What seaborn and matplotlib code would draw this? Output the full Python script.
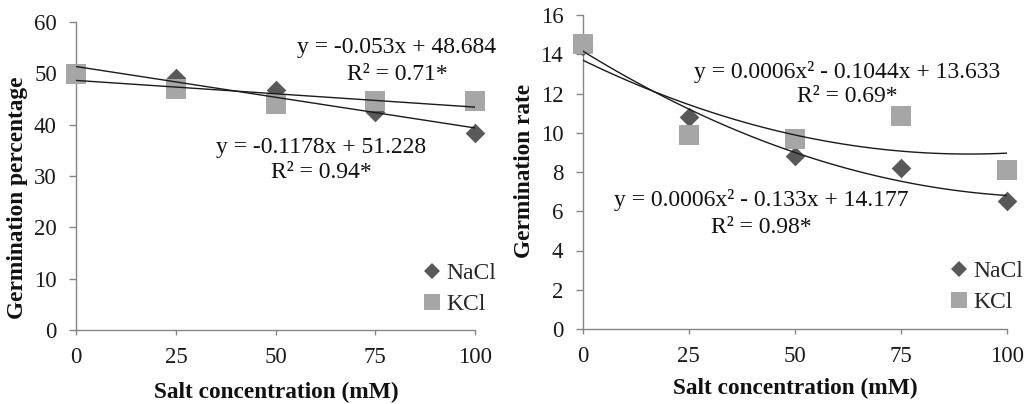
import matplotlib
matplotlib.use("Agg")
import matplotlib.pyplot as plt
from matplotlib.lines import Line2D
import seaborn as sns
import pandas as pd

# ---- data ----
salt_mM = [0, 25, 50, 75, 100]
pct_nacl = [50.1, 49.0, 46.7, 42.5, 38.4]
pct_kcl = [49.9, 47.0, 44.0, 44.6, 44.6]
rate_nacl = [14.4, 10.8, 8.8, 8.2, 6.5]
rate_kcl = [14.5, 9.9, 9.7, 10.85, 8.1]
series_names = ["NaCl", "KCl"]
pct_yticks = [0, 10, 20, 30, 40, 50, 60]
rate_yticks = [0, 2, 4, 6, 8, 10, 12, 14, 16]
x_ticks = [0, 25, 50, 75, 100]
xlabel = "Salt concentration (mM)"
ylabel_left = "Germination percentage"
ylabel_right = "Germination rate"
eq_left_kcl = ["y = -0.053x + 48.684", "R\u00b2 = 0.71*"]
eq_left_nacl = ["y = -0.1178x + 51.228", "R\u00b2 = 0.94*"]
eq_right_kcl = ["y = 0.0006x\u00b2 - 0.1044x + 13.633", "R\u00b2 = 0.69*"]
eq_right_nacl = ["y = 0.0006x\u00b2 - 0.133x + 14.177", "R\u00b2 = 0.98*"]

sns.set_theme(style="white")
plt.rcParams["font.family"] = ["Liberation Serif", "DejaVu Serif"]

W, H = 1025, 404
fig = plt.figure(figsize=(W / 100, H / 100), dpi=100)

c_nacl = "#595959"
c_kcl = "#A6A6A6"
axis_c = "#868686"
txt_c = "#111111"

def px_rect(x0, x1, ytop, ybot):
    return [x0 / W, 1 - ybot / H, (x1 - x0) / W, (ybot - ytop) / H]

axL = fig.add_axes(px_rect(76.3, 475, 22, 330))
axR = fig.add_axes(px_rect(582.7, 1007, 15, 329))

def panel(ax, y_nacl, y_kcl, order, yticks, ylab):
    df_n = pd.DataFrame({"x": salt_mM, "y": y_nacl})
    df_k = pd.DataFrame({"x": salt_mM, "y": y_kcl})
    sns.scatterplot(data=df_n, x="x", y="y", ax=ax, marker="D", s=100,
                    color=c_nacl, linewidth=0, clip_on=False, zorder=3)
    sns.scatterplot(data=df_k, x="x", y="y", ax=ax, marker="s", s=190,
                    color=c_kcl, linewidth=0, clip_on=False, zorder=4)
    for d in (df_n, df_k):
        sns.regplot(data=d, x="x", y="y", ax=ax, scatter=False, order=order,
                    ci=None, truncate=True,
                    line_kws=dict(color="#1a1a1a", lw=1.0, zorder=5))
    ax.set_xlim(0, 100)
    ax.set_ylim(yticks[0], yticks[-1])
    ax.set_xticks(x_ticks)
    ax.set_yticks(yticks)
    for s in ("top", "right"):
        ax.spines[s].set_visible(False)
    for s in ("left", "bottom"):
        ax.spines[s].set_color(axis_c)
        ax.spines[s].set_linewidth(1.0)
    ax.tick_params(axis="y", direction="out", length=5, width=1, color=axis_c,
                   pad=9, labelsize=16.5, labelcolor="#1a1a1a", left=True)
    ax.tick_params(axis="x", direction="out", length=3.5, width=1, color=axis_c,
                   pad=8.5, labelsize=16.5, labelcolor="#1a1a1a", bottom=True)
    ax.set_xlabel(xlabel, fontsize=16.8, fontweight="bold", color=txt_c)
    ax.set_ylabel(ylab, fontsize=16.8, fontweight="bold", color=txt_c)
    ax.grid(False)
    ax.set_facecolor("white")

panel(axL, pct_nacl, pct_kcl, 1, pct_yticks, ylabel_left)
panel(axR, rate_nacl, rate_kcl, 2, rate_yticks, ylabel_right)

def fig_to_axes(ax, px, py):
    inv = ax.transAxes.inverted()
    return inv.transform((px, H - py))

axL.xaxis.set_label_coords(*fig_to_axes(axL, 276, 392))
axL.yaxis.set_label_coords(*fig_to_axes(axL, 18, 198))
axR.xaxis.set_label_coords(*fig_to_axes(axR, 795, 388))
axR.yaxis.set_label_coords(*fig_to_axes(axR, 524, 171))
for ax in (axL, axR):
    ax.xaxis.label.set_va("center")
    ax.yaxis.label.set_va("center")

def eq(lines, cx, y1, y2):
    fig.text(cx / W, 1 - y1 / H, lines[0], ha="center", va="center",
             fontsize=17, color=txt_c)
    fig.text(cx / W, 1 - y2 / H, lines[1], ha="center", va="center",
             fontsize=17, color=txt_c)

eq(eq_left_kcl, 397, 48, 75)
eq(eq_left_nacl, 321, 147, 173)
eq(eq_right_kcl, 847, 72, 97)
eq(eq_right_nacl, 761, 200, 227)

def legend(ax, xa, ya):
    handles = [
        Line2D([], [], ls="none", marker="D", markersize=7.8, color=c_nacl,
               markeredgewidth=0),
        Line2D([], [], ls="none", marker="s", markersize=11, color=c_kcl,
               markeredgewidth=0),
    ]
    ax.legend(handles, series_names, loc="center left", bbox_to_anchor=(xa, ya),
              frameon=False, borderpad=0, borderaxespad=0, handlelength=1.0,
              handletextpad=0.1, labelspacing=0.4, fontsize=17)

legend(axL, (420 - 76.3) / (475 - 76.3), (330 - 289) / 308)
legend(axR, (947 - 582.7) / (1007 - 582.7), (329 - 287) / 314)

fig.savefig("out.png", dpi=100, facecolor="white")
